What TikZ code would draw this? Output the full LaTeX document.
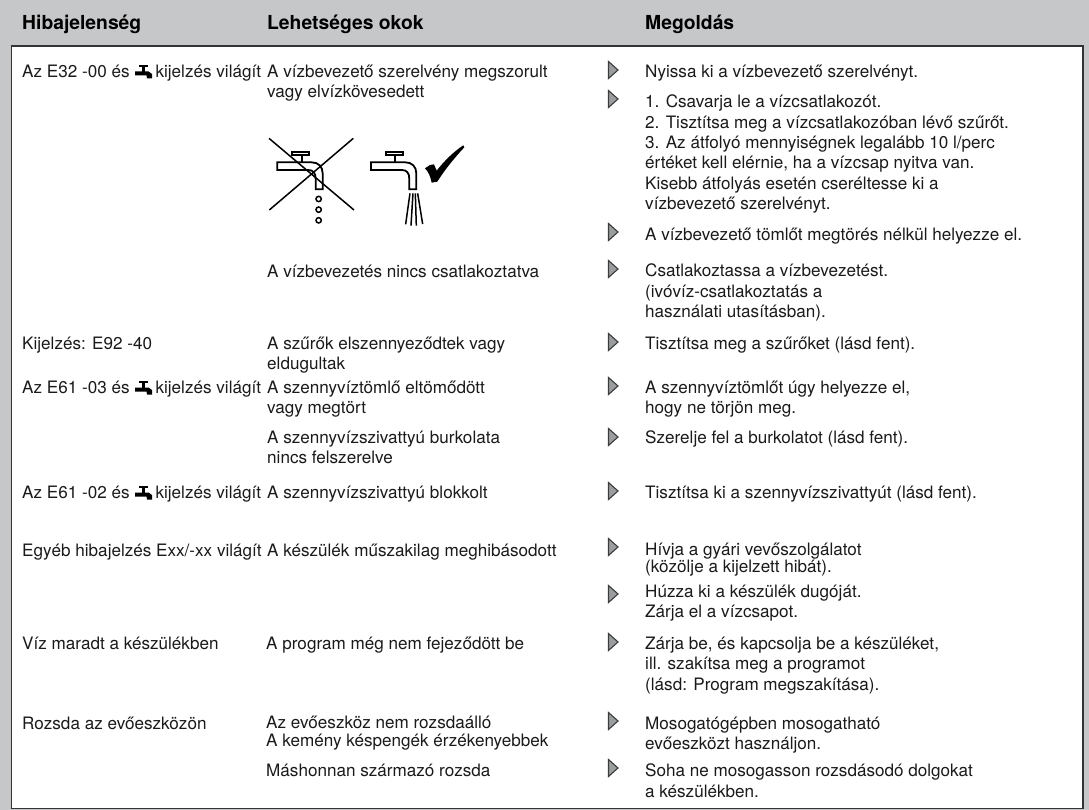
\documentclass[tikz,border=0pt]{standalone}
\usepackage{fontspec}
\setmainfont{TeX Gyre Heros}
\definecolor{panel}{HTML}{C6C7C9}
\definecolor{ink}{HTML}{1A1A1A}
\definecolor{marker}{HTML}{9A9E9E}
\newcommand\firstline{\rule{0pt}{12pt}}
\tikzset{
  txt/.style={anchor=north west,inner sep=0pt,align=left,text=ink,
    font=\fontsize{17.1}{20.3}\selectfont,execute at begin node=\firstline},
  head/.style={anchor=base west,inner sep=0pt,text=black,font=\fontsize{19.3}{22}\selectfont\bfseries},
  mark tri/.style={draw=ink!85,fill=marker,line width=1.1pt,line join=miter},
  tapline/.style={draw=black,line width=1.8pt,fill=white,line join=miter},
  thinline/.style={draw=black,line width=1.5pt},
  pics/smalltap/.style={code={
    \fill[black] (4.5,0) rectangle (13,2);
    \fill[black] (7.5,0) rectangle (10.5,7);
    \fill[black] (0.5,6.5) -- (14,6.5) -- (17.5,9) -- (17.5,13.5) -- (12.5,13.5) -- (12,10.5) -- (0.5,10.5) -- cycle;
  }},
  pics/bigtap/.style={code={
    \path[tapline] (142,97) -- (245,97) .. controls (265,97) and (278,110) .. (278,130) -- (278,178) -- (257,178) -- (257,147) .. controls (257,130) and (250,120) .. (235,120) -- (142,120) -- cycle;
    \path[tapline] (187,65) rectangle (238,75);
    \path[draw=black,line width=1.9pt] (215,75) -- (215,97);
  }}
}
\begin{document}
\begin{tikzpicture}[x=1pt,y=-1pt]
\useasboundingbox (0,0) rectangle (1089,810);
\fill[panel] (0,0) rectangle (1089,810);
\draw[fill=white,draw=black!80,line width=1.3pt] (11.5,46) rectangle (1083,808.8);

\node[head] (h1) at (22,30) {Hibajelenség};
\node[head] (h2) at (267,30) {Lehetséges okok};
\node[head] (h3) at (645,30) {Megoldás};

% column 1
\node[txt] (a1) at (22,65) {Az E32 -00 és\hspace*{26pt}kijelzés világít};
\node[txt] (a2) at (22,337) {Kijelzés: E92 -40};
\node[txt] (a3) at (22,381) {Az E61 -03 és\hspace*{26pt}kijelzés világít};
\node[txt] (a4) at (22,486) {Az E61 -02 és\hspace*{26pt}kijelzés világít};
\node[txt] (a5) at (22,544) {Egyéb hibajelzés Exx/-xx világít};
\node[txt] (a6) at (22,637) {Víz maradt a készülékben};
\node[txt] (a7) at (22,717) {Rozsda az evőeszközön};

\pic at (134.5,65) {smalltap};
\pic at (134.5,381) {smalltap};
\pic at (134.5,486) {smalltap};

% column 2
\node[txt] (b1) at (267,65) {A vízbevezető szerelvény megszorult\\vagy elvízkövesedett};
\node[txt] (b2) at (267,265) {A vízbevezetés nincs csatlakoztatva};
\node[txt] (b3) at (267,337) {A szűrők elszennyeződtek vagy\\eldugultak};
\node[txt] (b4) at (267,381) {A szennyvíztömlő eltömődött\\vagy megtört};
\node[txt] (b5) at (267,431) {A szennyvízszivattyú burkolata\\nincs felszerelve};
\node[txt] (b6) at (267,486) {A szennyvízszivattyú blokkolt};
\node[txt] (b7) at (267,544) {A készülék műszakilag meghibásodott};
\node[txt] (b8) at (266,637) {A program még nem fejeződött be};
\node[txt,font=\fontsize{17.1}{18}\selectfont] (b9) at (266,716) {Az evőeszköz nem rozsdaálló\\A kemény késpengék érzékenyebbek};
\node[txt] (b10) at (266,764) {Máshonnan származó rozsda};

% column 3
\node[txt] (c1) at (645,65) {Nyissa ki a vízbevezető szerelvényt.};
\node[txt] (c2) at (645,95) {1. Csavarja le a vízcsatlakozót.\\2. Tisztítsa meg a vízcsatlakozóban lévő szűrőt.\\3. Az átfolyó mennyiségnek legalább 10 l/perc\\értéket kell elérnie, ha a vízcsap nyitva van.\\Kisebb átfolyás esetén cseréltesse ki a\\vízbevezető szerelvényt.};
\node[txt] (c3) at (645,228) {A vízbevezető tömlőt megtörés nélkül helyezze el.};
\node[txt] (c4) at (645,264) {Csatlakoztassa a vízbevezetést.\\(ivóvíz-csatlakoztatás a\\használati utasításban).};
\node[txt] (c5) at (645,337) {Tisztítsa meg a szűrőket (lásd fent).};
\node[txt] (c6) at (645,381) {A szennyvíztömlőt úgy helyezze el,\\hogy ne törjön meg.};
\node[txt] (c7) at (645,431) {Szerelje fel a burkolatot (lásd fent).};
\node[txt] (c8) at (645,486) {Tisztítsa ki a szennyvízszivattyút (lásd fent).};
\node[txt,font=\fontsize{17.1}{17.2}\selectfont] (c9) at (645,543) {Hívja a gyári vevőszolgálatot\\(közölje a kijelzett hibát).};
\node[txt] (c10) at (645,585) {Húzza ki a készülék dugóját.\\Zárja el a vízcsapot.};
\node[txt] (c11) at (645,637) {Zárja be, és kapcsolja be a készüléket,\\ill. szakítsa meg a programot\\(lásd: Program megszakítása).};
\node[txt] (c12) at (645,717) {Mosogatógépben mosogatható\\evőeszközt használjon.};
\node[txt] (c13) at (645,764) {Soha ne mosogasson rozsdásodó dolgokat\\a készülékben.};

% markers
\foreach \yy in {70,99,232,269,342,386,437,491,547,594,642,721,768}
  \draw[mark tri] (608.5,\yy-8.5) -- (618,\yy) -- (608.5,\yy+8.5) -- cycle;

% large taps
\begin{scope}[shift={(230,130)},x=0.3333pt,y=-0.3333pt]
  \pic at (0,0) {bigtap};
  \foreach \yy in {207,239,271} \draw[thinline] (266,\yy) circle[radius=8];
  \draw[thinline] (117,25) -- (372,240);
  \draw[thinline] (370,25) -- (118,240);
  \pic at (281,0) {bigtap};
  \draw[thinline] (540,190) -- (527,283);
  \draw[thinline] (549,190) -- (543,287);
  \draw[thinline] (556,190) -- (559,287);
  \draw[thinline] (563,190) -- (578,282);
  \fill[black] (585,115) -- (600,105) -- (612,103) -- (620,122) .. controls (645,90) and (675,62) .. (700,46) -- (703,52) .. controls (675,82) and (645,118) .. (622,155) -- (605,158) .. controls (602,140) and (595,125) .. (585,115) -- cycle;
\end{scope}
\end{tikzpicture}
\end{document}
